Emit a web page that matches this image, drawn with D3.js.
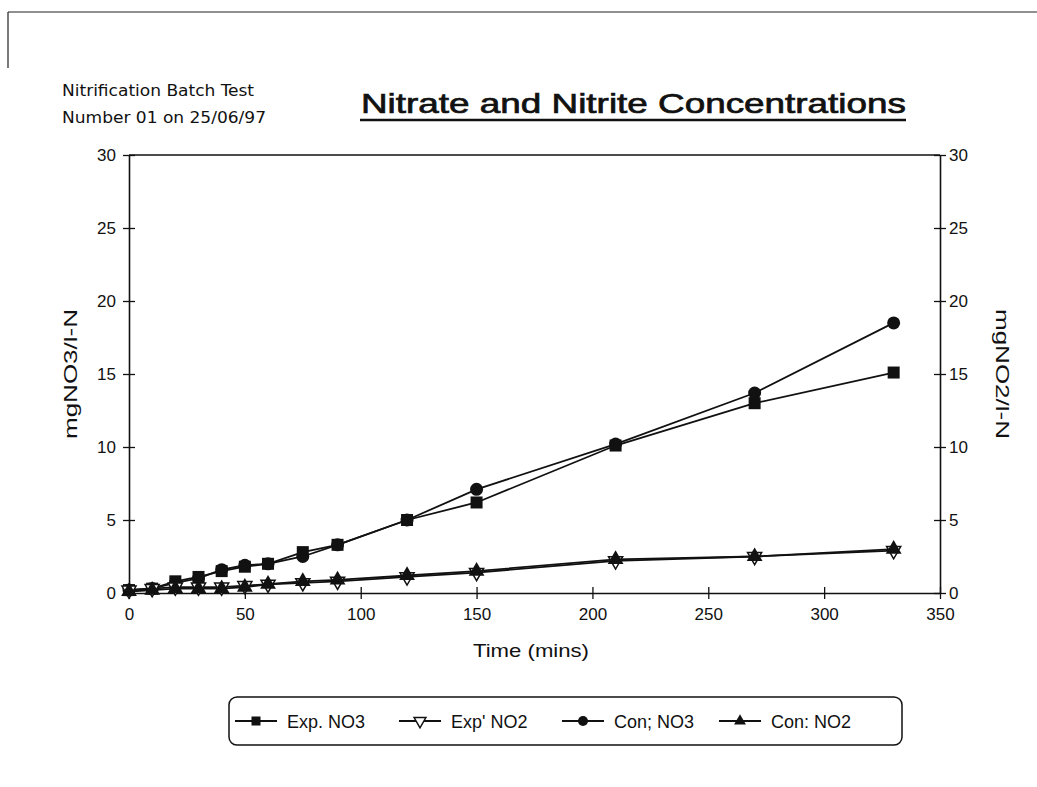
<!DOCTYPE html>
<html><head><meta charset="utf-8">
<script src="https://cdn.jsdelivr.net/npm/d3@7"></script>
<style>
body{margin:0;background:#fff;}
svg{display:block;font-family:"Liberation Sans",Arial,sans-serif;}
</style></head>
<body><svg id="c" width="1037" height="787"></svg>
<script>
const times = [0,10,20,30,40,50,60,75,90,120,150,210,270,330];
const expNO3 = [0.2,0.3,0.8,1.1,1.5,1.8,2.0,2.8,3.3,5.0,6.2,10.1,13.0,15.1];
const expNO2 = [0.2,0.3,0.4,0.4,0.4,0.5,0.6,0.7,0.8,1.1,1.4,2.2,2.5,2.9];
const conNO3 = [0.2,0.3,0.7,1.0,1.6,1.9,2.0,2.5,3.3,5.0,7.1,10.2,13.7,18.5];
const conNO2 = [0.1,0.2,0.3,0.3,0.3,0.4,0.6,0.8,0.9,1.2,1.5,2.3,2.5,3.0];
const xTicks = [0,50,100,150,200,250,300,350];
const yTicks = [0,5,10,15,20,25,30];
const seriesNames = ["Exp. NO3","Exp' NO2","Con; NO3","Con: NO2"];
const seriesValues = [expNO3, expNO2, conNO3, conNO2];
const seriesMarkers = ["square","triangleDownOpen","circle","triangle"];

const svg = d3.select("#c");
const L = 129, R = 940, T = 155, B = 593;
const x = d3.scaleLinear().domain([0,350]).range([L,R]);
const yL = d3.scaleLinear().domain([0,30]).range([B,T]);
const yR = d3.scaleLinear().domain([0,30]).range([B,T]);

// page frame (scan edges)
svg.append("line").attr("x1",8).attr("x2",1037).attr("y1",12).attr("y2",12).attr("stroke","#222").attr("stroke-width",1.2);
svg.append("line").attr("x1",8).attr("x2",8).attr("y1",12).attr("y2",68).attr("stroke","#222").attr("stroke-width",1.2);

// headings
const narrow = "'Liberation Sans Narrow','DejaVu Sans Condensed',sans-serif";
svg.append("text").attr("x",62).attr("y",96)
  .style("font-family",narrow).style("font-size","16px").attr("fill","#111")
  .attr("textLength",192).attr("lengthAdjust","spacingAndGlyphs")
  .text("Nitrification Batch Test");
svg.append("text").attr("x",62).attr("y",123)
  .style("font-family",narrow).style("font-size","16px").attr("fill","#111")
  .attr("textLength",204).attr("lengthAdjust","spacingAndGlyphs")
  .text("Number 01 on 25/06/97");
svg.append("text").attr("x",361).attr("y",113)
  .style("font-size","28px").attr("fill","#111").attr("stroke","#111").attr("stroke-width",0.7)
  .attr("textLength",545).attr("lengthAdjust","spacingAndGlyphs")
  .text("Nitrate and Nitrite Concentrations");
svg.append("line").attr("x1",360).attr("x2",906).attr("y1",120).attr("y2",120).attr("stroke","#111").attr("stroke-width",2.5);

// plot frame top
svg.append("line").attr("x1",L).attr("x2",R).attr("y1",T).attr("y2",T).attr("stroke","#111").attr("stroke-width",1.6);

// axes
const gx = svg.append("g").attr("transform",`translate(0,${B})`)
  .call(d3.axisBottom(x).tickValues(xTicks).tickSize(6).tickSizeOuter(0).tickPadding(9));
gx.selectAll(".tick line").attr("y1",-6);
const gl = svg.append("g").attr("transform",`translate(${L},0)`)
  .call(d3.axisLeft(yL).tickValues(yTicks).tickSize(6).tickSizeOuter(0).tickPadding(7));
gl.selectAll(".tick line").attr("x1",6);
const gr = svg.append("g").attr("transform",`translate(${R},0)`)
  .call(d3.axisRight(yR).tickValues(yTicks).tickSize(6).tickSizeOuter(0).tickPadding(3));
gr.selectAll(".tick line").attr("x1",-6);
[gx,gl,gr].forEach(g=>{
  g.select(".domain").attr("stroke","#111").attr("stroke-width",1.6);
  g.selectAll(".tick line").attr("stroke","#111").attr("stroke-width",1.3);
  g.selectAll(".tick text").style("font-size","17px").attr("fill","#111").style("font-family","'Liberation Sans',Arial,sans-serif");
});

svg.append("text").attr("transform",`translate(77,374) rotate(-90)`).attr("text-anchor","middle")
  .style("font-size","19px").attr("fill","#111")
  .attr("textLength",130).attr("lengthAdjust","spacingAndGlyphs").text("mgNO3/l-N");
svg.append("text").attr("transform",`translate(996,374) rotate(90)`).attr("text-anchor","middle")
  .style("font-size","19px").attr("fill","#111")
  .attr("textLength",130).attr("lengthAdjust","spacingAndGlyphs").text("mgNO2/l-N");
svg.append("text").attr("x",531).attr("y",657).attr("text-anchor","middle")
  .style("font-size","19px").attr("fill","#111")
  .attr("textLength",116).attr("lengthAdjust","spacingAndGlyphs").text("Time (mins)");

// markers
function marker(g, type, cx, cy, s){
  if(type==="square"){
    g.append("rect").attr("x",cx-s/2).attr("y",cy-s/2).attr("width",s).attr("height",s).attr("fill","#111");
  } else if(type==="circle"){
    g.append("circle").attr("cx",cx).attr("cy",cy).attr("r",s/2+0.5).attr("fill","#111");
  } else if(type==="triangle"){
    g.append("path").attr("d",d3.symbol(d3.symbolTriangle, s*s*0.75)()).attr("transform",`translate(${cx},${cy})`).attr("fill","#111");
  } else {
    g.append("path").attr("d",d3.symbol(d3.symbolTriangle, s*s*0.6)()).attr("transform",`translate(${cx},${cy}) rotate(180)`)
      .attr("fill","#fff").attr("stroke","#111").attr("stroke-width",1.5);
  }
}

const line = d3.line().x(d=>x(d[0])).y(d=>yL(d[1]));
const drawOrder = [0,2,1,3];
drawOrder.forEach(i=>{
  const pts = times.map((t,k)=>[t,seriesValues[i][k]]);
  const g = svg.append("g");
  g.append("path").attr("d",line(pts)).attr("fill","none").attr("stroke","#111").attr("stroke-width",1.8);
  pts.forEach(p=>marker(g, seriesMarkers[i], x(p[0]), yL(p[1]), 12));
});

// legend
const lg = svg.append("g");
lg.append("rect").attr("x",229).attr("y",697).attr("width",673).attr("height",48).attr("rx",8)
  .attr("fill","#fff").attr("stroke","#111").attr("stroke-width",1.5);
const legX = [235,399,562,719];
seriesNames.forEach((n,i)=>{
  const lx = legX[i], ly = 721;
  lg.append("line").attr("x1",lx).attr("x2",lx+42).attr("y1",ly).attr("y2",ly).attr("stroke","#111").attr("stroke-width",1.8);
  marker(lg, seriesMarkers[i], lx+21, ly, i===1?10:9);
  lg.append("text").attr("x",lx+52).attr("y",ly+7).style("font-size","18px").attr("fill","#111").text(n);
});
</script></body></html>
